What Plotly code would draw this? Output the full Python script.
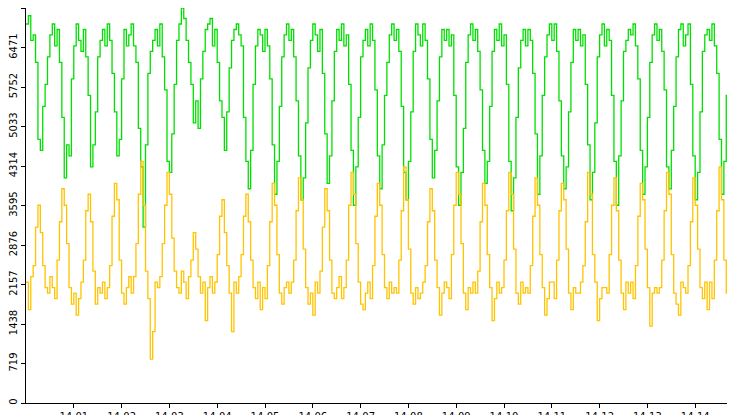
import plotly.graph_objects as go

# samples every 3 s starting 14:00:00
step_s = 3

green = [
    6900, 7050, 6600, 6700, 6200, 4800, 4600, 5400, 5800, 6300, 6700,
    6900, 6500, 6800, 6200, 5200, 4100, 4700, 4500, 5900, 6500, 6900,
    6600, 6400, 6800, 6300, 5600, 4300, 4700, 5300, 6300, 6600, 6800,
    6500, 6900, 6600, 6000, 5300, 4500, 4800, 5900, 6800, 6500, 6700,
    6900, 6500, 6200, 5000, 4300, 3200, 4700, 6000, 6400, 6600, 6800,
    6500, 6900, 6300, 5700, 4400, 4200, 4900, 5800, 6600, 6900, 7191,
    7000, 6600, 6200, 5800, 5100, 5500, 5000, 5900, 6400, 6800, 6900,
    7000, 6500, 6800, 6200, 5500, 5200, 4600, 5300, 6100, 6600, 6800,
    6900, 6700, 6500, 5200, 4400, 3900, 4600, 5800, 6500, 6800, 6700,
    6400, 6800, 6500, 5900, 4700, 3800, 4400, 5400, 6300, 6700, 6900,
    6600, 6800, 6300, 5500, 4500, 3700, 4100, 5100, 6100, 6600, 6900,
    6700, 6400, 6800, 6000, 4900, 4000, 4500, 5500, 6400, 6800, 6600,
    6900, 6500, 6700, 5800, 4600, 3600, 4300, 5200, 6300, 6600, 6800,
    6500, 6900, 6600, 5700, 4500, 3900, 4700, 5600, 6200, 6700, 6900,
    6600, 6800, 6400, 5400, 4200, 3700, 4400, 5300, 6400, 6900, 6700,
    6500, 6900, 6600, 5900, 4800, 4100, 4600, 5500, 6300, 6800, 6600,
    6800, 6500, 6700, 5600, 4300, 3600, 4200, 5000, 6200, 6700, 6900,
    6600, 6800, 6400, 5700, 4600, 4000, 4400, 5400, 6400, 6800, 6600,
    6900, 6500, 6700, 5800, 4400, 3500, 4100, 5200, 6100, 6600, 6800,
    6500, 6800, 6600, 6000, 4900, 3800, 4500, 5600, 6300, 6700, 6900,
    6600, 6900, 6400, 5500, 4500, 3900, 4300, 5300, 6200, 6800, 6600,
    6800, 6500, 6700, 5800, 4700, 3700, 4200, 5100, 6300, 6700, 6900,
    6500, 6800, 6600, 5600, 4400, 3600, 4500, 5500, 6400, 6600, 6800,
    6700, 6900, 6500, 5900, 4600, 3800, 4300, 5200, 6200, 6700, 6900,
    6600, 6800, 6400, 5700, 4300, 3900, 4600, 5400, 6300, 6800, 6900,
    6500, 6700, 6900, 5800, 4500, 3700, 4200, 5300, 6400, 6700, 6800,
    6600, 6900, 6500, 6000, 4800, 3800, 4400, 5600, 6500, 6800, 6700,
    6400, 5800, 700,
]

orange = [
    2200, 1700, 2300, 2500, 3200, 3600, 3100, 2500, 2100, 2000, 2300,
    2100, 1900, 2600, 3300, 3900, 3600, 2900, 2100, 1800, 2000, 1600,
    1900, 2200, 2600, 3500, 3800, 3300, 2400, 1800, 2100, 2000, 2200,
    1900, 2100, 2500, 3400, 4000, 3700, 2600, 2000, 1800, 2100, 2300,
    2000, 2300, 2900, 3800, 4400, 3600, 2400, 1900, 800, 1300, 2200,
    2100, 2300, 2900, 3600, 4200, 3800, 3000, 2400, 2100, 2000, 2400,
    2200, 1900, 2300, 2600, 3100, 2800, 2300, 2000, 2200, 1500, 2100,
    2300, 2000, 2200, 2700, 3400, 3700, 3100, 2500, 2000, 1300, 2200,
    2000, 2300, 2700, 3400, 3800, 3300, 2600, 2100, 1900, 2200, 1700,
    2100, 1900, 2500, 3300, 4000, 3600, 2700, 2000, 1800, 2100, 2200,
    2000, 2200, 2600, 3500, 4100, 3700, 2800, 2100, 1800, 2000, 1600,
    2200, 2000, 2400, 3200, 3900, 3500, 2600, 2000, 1900, 2100, 2300,
    1900, 2100, 2600, 3600, 4200, 3800, 2900, 2200, 1800, 1700, 2000,
    2200, 1900, 2500, 3400, 4000, 3600, 2700, 2100, 1900, 2200, 2000,
    2100, 2000, 2600, 3500, 4300, 3700, 2800, 2000, 1800, 2100, 1900,
    2000, 2200, 2500, 3300, 3900, 3500, 2600, 2100, 1600, 2000, 2200,
    2100, 1900, 2700, 3600, 4200, 3800, 2900, 2000, 1700, 2100, 2000,
    2200, 2000, 2400, 3300, 4000, 3600, 2700, 2100, 1500, 1900, 2200,
    2000, 2100, 2600, 3500, 4200, 3800, 2800, 2000, 1800, 2200, 2000,
    2100, 2000, 2500, 3400, 4100, 3600, 2700, 2100, 1600, 1900, 2200,
    2200, 1900, 2600, 3500, 4000, 3700, 2800, 2000, 1700, 2100, 2000,
    2000, 2200, 2500, 3300, 4200, 3800, 2700, 2200, 1500, 1900, 2100,
    2100, 2000, 2700, 3600, 4100, 3500, 2600, 2000, 1700, 2200, 2000,
    2200, 1900, 2500, 3400, 4000, 3700, 2800, 2100, 1400, 2000, 2100,
    2000, 2100, 2600, 3500, 4200, 3800, 2700, 2000, 1800, 1600, 2200,
    2100, 2000, 2500, 3300, 4100, 3600, 2800, 2100, 1900, 2200, 1700,
    2200, 1900, 2600, 3500, 4300, 3700, 2600, 2000, 1800, 1300, 2100,
    2200, 1000, 0,
]

seconds = [i * step_s for i in range(len(green))]

y_ticks = [0, 719, 1438, 2157, 2876, 3595, 4314, 5033, 5752, 6471, 7191]
x_tickvals = [60 * m for m in range(1, 16)]
x_ticktext = ["14:%02d" % m for m in range(1, 15)] + ["14"]

fig = go.Figure()
fig.add_trace(go.Scatter(x=seconds, y=green, mode="lines", line=dict(color="#00e000", width=1.3, shape="hv")))
fig.add_trace(go.Scatter(x=seconds, y=orange, mode="lines", line=dict(color="#ffc400", width=1.3, shape="hv")))

fig.update_layout(
    width=735, height=415,
    margin=dict(l=16, r=0, t=0, b=20),
    paper_bgcolor="white", plot_bgcolor="white",
    showlegend=False,
    font=dict(family="DejaVu Sans", size=10, color="black"),
)
fig.update_xaxes(range=[0, 900], tickvals=x_tickvals, ticktext=x_ticktext,
                 showgrid=False, zeroline=False, ticks="outside", ticklen=4,
                 tickcolor="black", showline=True, linecolor="black")
fig.update_yaxes(range=[0, 7191], tickvals=y_ticks, ticktext=[str(v) for v in y_ticks],
                 tickangle=-90, showgrid=False, zeroline=False, ticks="outside",
                 ticklen=4, tickcolor="black", showline=True, linecolor="black")

fig.write_html("out.html")
